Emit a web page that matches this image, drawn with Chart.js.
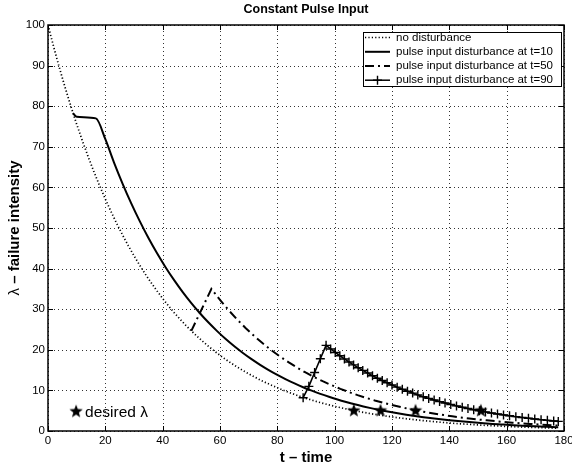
<!DOCTYPE html>
<html>
<head>
<meta charset="utf-8">
<script src="https://cdn.jsdelivr.net/npm/chart.js@4.4.1/dist/chart.umd.min.js"></script>
<style>
  html, body { margin: 0; padding: 0; background: #fff; }
  #wrap { width: 572px; height: 469px; position: relative; }
</style>
</head>
<body>
<div id="wrap"><canvas id="c"></canvas></div>
<script>
// no disturbance
const noDistT = [0, 2, 4, 6, 8, 10, 12, 14, 16, 18, 20, 22, 24, 26, 28, 30, 32, 34, 36, 38,
  40, 42, 44, 46, 48, 50, 52, 54, 56, 58, 60, 62, 64, 66, 68, 70, 72, 74, 76, 78,
  80, 82, 84, 86, 88, 90, 92, 94, 96, 98, 100, 102, 104, 106, 108, 110, 112, 114, 116, 118,
  120, 122, 124, 126, 128, 130, 132, 134, 136, 138, 140, 142, 144, 146, 148, 150, 152, 154, 156, 158,
  160, 162, 164, 166, 168, 170, 172, 174, 176, 178];
const noDistL = [100, 94.55, 89.40, 84.54, 79.93, 75.58, 71.46, 67.57, 63.89, 60.41,
  57.12, 54.01, 51.07, 48.29, 45.66, 43.17, 40.82, 38.60, 36.50, 34.51,
  32.63, 30.85, 29.17, 27.58, 26.08, 24.66, 23.32, 22.05, 20.85, 19.71,
  18.64, 17.62, 16.66, 15.76, 14.90, 14.09, 13.32, 12.59, 11.91, 11.26,
  10.65, 10.07, 9.52, 9.00, 8.51, 8.05, 7.61, 7.19, 6.80, 6.43,
  6.08, 5.75, 5.44, 5.14, 4.86, 4.60, 4.35, 4.11, 3.89, 3.67,
  3.47, 3.28, 3.11, 2.94, 2.78, 2.62, 2.48, 2.35, 2.22, 2.10,
  1.98, 1.88, 1.77, 1.68, 1.59, 1.50, 1.42, 1.34, 1.27, 1.20,
  1.13, 1.07, 1.01, 0.96, 0.91, 0.86, 0.81, 0.77, 0.72, 0.68];

// pulse at t=10
const pulse10T = [8.7, 10, 16.7, 20, 23, 26, 29, 32, 35, 38, 41, 44, 47, 50, 53, 56, 59, 62, 65, 68,
  71, 74, 77, 80, 83, 86, 89, 92, 95, 98, 101, 104, 107, 110, 113, 116, 119, 122, 125, 128,
  131, 134, 137, 140, 143, 146, 149, 152, 155, 158, 161, 164, 167, 170, 173, 176, 178];
const pulse10L = [78.3, 77.4, 77.0, 71.88, 66.19, 60.95, 56.12, 51.68, 47.59, 43.82, 40.35, 37.15, 34.21,
  31.50, 29.01, 26.71, 24.60, 22.65, 20.86, 19.21, 17.69, 16.29, 15.00,
  13.81, 12.72, 11.71, 10.78, 9.93, 9.14, 8.42, 7.75, 7.14, 6.57,
  6.05, 5.57, 5.13, 4.72, 4.35, 4.01, 3.69, 3.39, 3.13, 2.88,
  2.65, 2.44, 2.25, 2.07, 1.90, 1.75, 1.62, 1.49, 1.37, 1.26,
  1.16, 1.07, 0.98, 0.93];

// pulse at t=50
const pulse50T = [50, 57, 60, 63, 66, 69, 72, 75, 78, 81, 84, 87, 90, 93, 96, 99, 102, 105, 108, 111,
  114, 117, 120, 123, 126, 129, 132, 135, 138, 141, 144, 147, 150, 153, 156, 159, 162, 165, 168, 171,
  174, 177, 178];
const pulse50L = [24.66, 35.00, 32.28, 29.77, 27.45, 25.32, 23.35, 21.53, 19.86, 18.31, 16.89, 15.57,
  14.36, 13.24, 12.21, 11.26, 10.39, 9.58, 8.83, 8.15, 7.51, 6.93,
  6.39, 5.89, 5.43, 5.01, 4.62, 4.26, 3.93, 3.62, 3.34, 3.08,
  2.84, 2.62, 2.42, 2.23, 2.05, 1.89, 1.75, 1.61, 1.48, 1.37, 1.34];

// pulse at t=90
const pulse90T = [89, 91, 93, 95, 97, 98.6, 100.2, 101.8, 103.4, 105, 106.6, 108.2, 109.8, 111.5, 113.2,
  114.9, 116.6, 118.3, 120, 121.8, 123.6, 125.4, 127.2, 129, 130.9, 132.8, 134.7, 136.6, 138.5,
  140.5, 142.5, 144.5, 146.5, 148.5, 150.5, 152.6, 154.7, 156.8, 158.9, 161, 163.2, 165.4, 167.6,
  169.8, 172, 174.2, 176.4, 178];
const pulse90L = [8.2, 11.0, 14.4, 17.8, 21.1, 20.21, 19.35, 18.53, 17.75, 17.00, 16.28, 15.59, 14.93, 14.27, 13.62,
  13.01, 12.43, 11.87, 11.34, 10.80, 10.29, 9.80, 9.33, 8.89, 8.45, 8.03, 7.63, 7.24, 6.88,
  6.52, 6.18, 5.85, 5.55, 5.25, 4.98, 4.70, 4.44, 4.20, 3.97, 3.75, 3.53, 3.33, 3.14,
  2.96, 2.79, 2.62, 2.47, 2.37];

// desired lambda marks
const desiredT = [106.7, 116, 128.2, 151];
const desiredL = [5, 5, 5, 5];

const xTicks = [0, 20, 40, 60, 80, 100, 120, 140, 160, 180];
const yTicks = [0, 10, 20, 30, 40, 50, 60, 70, 80, 90, 100];

const seriesNames = ['no disturbance', 'pulse input disturbance at t=10',
  'pulse input disturbance at t=50', 'pulse input disturbance at t=90'];

const FONT = '"Liberation Sans", Arial, Helvetica, sans-serif';
const DOT = [1.2, 2.2];
const DASHDOT = [9, 4, 2, 4];

function pts(ts, ls) { return ts.map((t, i) => ({ x: t, y: ls[i] })); }

function makeStar(r) {
  const s = Math.ceil(r * 2 + 2);
  const c = document.createElement('canvas');
  c.width = s; c.height = s;
  const g = c.getContext('2d');
  g.fillStyle = '#000';
  g.beginPath();
  for (let i = 0; i < 10; i++) {
    const rad = i % 2 ? r * 0.42 : r;
    const a = -Math.PI / 2 + i * Math.PI / 5;
    const px = s / 2 + rad * Math.cos(a), py = s / 2 + rad * Math.sin(a);
    if (i) g.lineTo(px, py); else g.moveTo(px, py);
  }
  g.closePath();
  g.fill();
  return c;
}
const star = makeStar(7);

// dotted grid at the tick values, drawn under the data
const dottedGrid = {
  id: 'dottedGrid',
  beforeDatasetsDraw(chart) {
    const { ctx, chartArea: a, scales: { x, y } } = chart;
    ctx.save();
    ctx.fillStyle = '#333';
    xTicks.forEach(v => {
      const px = Math.round(x.getPixelForValue(v));
      for (let py = a.top + 2; py < a.bottom; py += 4) ctx.fillRect(px, py, 1, 1);
    });
    yTicks.forEach(v => {
      const py = Math.round(y.getPixelForValue(v));
      for (let px = a.left + 2; px < a.right; px += 4) ctx.fillRect(px, py, 1, 1);
    });
    ctx.restore();
  }
};

const decor = {
  id: 'decor',
  afterDraw(chart) {
    const { ctx, chartArea: a, scales: { x, y } } = chart;
    ctx.save();
    ctx.setLineDash([]);
    ctx.strokeStyle = '#000';
    ctx.fillStyle = '#000';

    // axes box
    ctx.lineWidth = 1.5;
    ctx.strokeRect(a.left, a.top, a.right - a.left, a.bottom - a.top);

    // inward ticks
    ctx.lineWidth = 1;
    ctx.beginPath();
    xTicks.forEach(v => {
      const px = Math.round(x.getPixelForValue(v)) + 0.5;
      ctx.moveTo(px, a.bottom); ctx.lineTo(px, a.bottom - 5);
      ctx.moveTo(px, a.top); ctx.lineTo(px, a.top + 5);
    });
    yTicks.forEach(v => {
      const py = Math.round(y.getPixelForValue(v)) + 0.5;
      ctx.moveTo(a.left, py); ctx.lineTo(a.left + 5, py);
      ctx.moveTo(a.right, py); ctx.lineTo(a.right - 5, py);
    });
    ctx.stroke();

    // tick labels
    ctx.font = '11.5px ' + FONT;
    ctx.textBaseline = 'middle';
    ctx.textAlign = 'center';
    xTicks.forEach(v => ctx.fillText(String(v), x.getPixelForValue(v), a.bottom + 10));
    ctx.textAlign = 'right';
    yTicks.forEach(v => ctx.fillText(String(v), a.left - 3, y.getPixelForValue(v)));

    // title and axis titles
    const cx = (a.left + a.right) / 2;
    ctx.textAlign = 'center';
    ctx.font = 'bold 12.5px ' + FONT;
    ctx.fillText('Constant Pulse Input', cx, 10);
    ctx.font = 'bold 15px ' + FONT;
    ctx.fillText('t \u2013 time', cx, 458);

    ctx.save();
    ctx.translate(14.5, (a.top + a.bottom) / 2);
    ctx.rotate(-Math.PI / 2);
    ctx.font = '15px ' + FONT;
    const w1 = ctx.measureText('\u03bb').width;
    ctx.font = 'bold 15px ' + FONT;
    const rest = ' \u2013 failure intensity';
    const w2 = ctx.measureText(rest).width;
    ctx.textAlign = 'left';
    ctx.font = '15px ' + FONT;
    ctx.fillText('\u03bb', -(w1 + w2) / 2, 0);
    ctx.font = 'bold 15px ' + FONT;
    ctx.fillText(rest, -(w1 + w2) / 2 + w1, 0);
    ctx.restore();

    // desired lambda note
    const sx = x.getPixelForValue(9.8), sy = y.getPixelForValue(4.8);
    ctx.drawImage(star, sx - star.width / 2, sy - star.height / 2);
    ctx.font = '15.5px ' + FONT;
    ctx.textAlign = 'left';
    ctx.fillText('desired \u03bb', sx + 9, sy + 1);

    // legend
    const lx = 363, ly = 32, lw = 198, lh = 54;
    ctx.fillStyle = '#fff';
    ctx.fillRect(lx, ly, lw, lh);
    ctx.lineWidth = 1;
    ctx.strokeStyle = '#000';
    ctx.strokeRect(lx + 0.5, ly + 0.5, lw, lh);
    const rows = [37.5, 51.8, 66, 80.2];
    const styles = [
      { w: 1.7, dash: DOT },
      { w: 2, dash: [] },
      { w: 2, dash: DASHDOT },
      { w: 1.5, dash: [], plus: true }
    ];
    ctx.font = '11.5px ' + FONT;
    ctx.textBaseline = 'middle';
    rows.forEach((ry, i) => {
      const st = styles[i];
      ctx.lineWidth = st.w;
      ctx.setLineDash(st.dash);
      ctx.beginPath();
      ctx.moveTo(365, ry); ctx.lineTo(390, ry);
      ctx.stroke();
      ctx.setLineDash([]);
      if (st.plus) {
        ctx.lineWidth = 1.4;
        ctx.beginPath();
        ctx.moveTo(377.5 - 4.5, ry); ctx.lineTo(377.5 + 4.5, ry);
        ctx.moveTo(377.5, ry - 4.5); ctx.lineTo(377.5, ry + 4.5);
        ctx.stroke();
      }
      ctx.fillStyle = '#000';
      ctx.fillText(seriesNames[i], 396, ry);
    });
    ctx.restore();
  }
};

new Chart(document.getElementById('c'), {
  type: 'line',
  data: {
    datasets: [
      {
        label: seriesNames[0], data: pts(noDistT, noDistL),
        borderColor: '#000', borderWidth: 1.7, borderDash: DOT, pointRadius: 0
      },
      {
        label: seriesNames[1], data: pts(pulse10T, pulse10L),
        borderColor: '#000', borderWidth: 2, pointRadius: 0, cubicInterpolationMode: 'monotone'
      },
      {
        label: seriesNames[2], data: pts(pulse50T, pulse50L),
        borderColor: '#000', borderWidth: 2, borderDash: DASHDOT, pointRadius: 0
      },
      {
        label: seriesNames[3], data: pts(pulse90T, pulse90L),
        borderColor: '#000', borderWidth: 1.6, pointStyle: 'cross', pointRadius: 4.5,
        pointBorderWidth: 1.4, pointBorderColor: '#000', pointBackgroundColor: '#000'
      },
      {
        label: 'desired', data: pts(desiredT, desiredL), showLine: false,
        pointStyle: star, pointRadius: 7
      }
    ]
  },
  options: {
    responsive: true,
    maintainAspectRatio: false,
    animation: false,
    events: [],
    layout: { padding: { left: 0, top: 25, right: 7, bottom: 0 } },
    plugins: { legend: { display: false }, tooltip: { enabled: false } },
    scales: {
      x: {
        type: 'linear', min: 0, max: 180,
        ticks: { display: false, stepSize: 20 },
        grid: { display: false },
        border: { display: false },
        afterFit: s => { s.height = 38; }
      },
      y: {
        type: 'linear', min: 0, max: 100,
        ticks: { display: false, stepSize: 10 },
        grid: { display: false },
        border: { display: false },
        afterFit: s => { s.width = 48; }
      }
    }
  },
  plugins: [dottedGrid, decor]
});
</script>
</body>
</html>
